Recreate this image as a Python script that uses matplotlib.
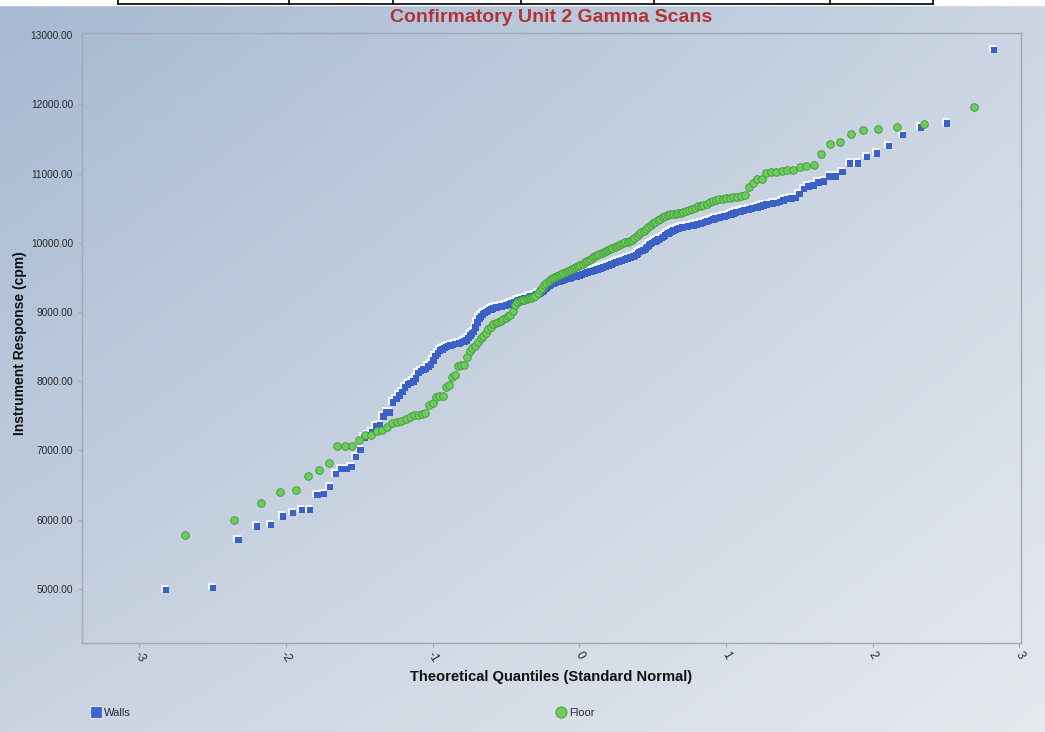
import numpy as np
import matplotlib
matplotlib.use("Agg")
import matplotlib.pyplot as plt
from matplotlib.transforms import offset_copy
from matplotlib.lines import Line2D
from statistics import NormalDist

# Sorted instrument responses (cpm)
walls = [
    4996, 5025, 5718, 5910, 5934, 6059, 6108, 6151, 6151, 6368, 6382, 6478, 6666, 6743, 6743,
    6772, 6915, 7017, 7200, 7235, 7272, 7354, 7368, 7500, 7555, 7560, 7705, 7754, 7800,
    7850, 7920, 7965, 7985, 8005, 8050, 8130, 8160, 8175, 8188, 8220,
    8250, 8310, 8370, 8410, 8450, 8470, 8490, 8503, 8515, 8524,
    8533, 8545, 8550, 8555, 8560, 8572, 8585, 8600, 8635, 8670,
    8700, 8720, 8785, 8860, 8915, 8945, 8975, 8995, 9010, 9025,
    9035, 9045, 9058, 9066, 9072, 9078, 9082, 9087, 9093, 9098,
    9102, 9108, 9120, 9130, 9142, 9150, 9155, 9165, 9172, 9180,
    9188, 9195, 9200, 9205, 9212, 9222, 9230, 9238, 9243, 9250,
    9258, 9265, 9273, 9285, 9300, 9318, 9340, 9360, 9378, 9392,
    9400, 9410, 9420, 9430, 9440, 9445, 9450, 9455, 9462, 9470,
    9476, 9482, 9488, 9494, 9500, 9506, 9512, 9518, 9524, 9530, 9537, 9543,
    9550, 9557, 9563, 9570, 9577, 9584, 9590, 9597, 9604, 9610,
    9617, 9623, 9630, 9636, 9643, 9650, 9657, 9663, 9670, 9678,
    9686, 9695, 9705, 9715, 9723, 9730, 9738, 9745, 9752, 9760,
    9767, 9775, 9782, 9790, 9797, 9803, 9810, 9820, 9835, 9855,
    9875, 9890, 9895, 9905, 9925, 9950, 9970, 9990, 10005, 10018,
    10030, 10042, 10052, 10062, 10075, 10090, 10110, 10133, 10145, 10158,
    10170, 10183, 10195, 10207, 10215, 10222, 10228, 10233, 10238, 10243,
    10248, 10253, 10258, 10263, 10270, 10278, 10287, 10296, 10305, 10315,
    10325, 10336, 10346, 10356, 10367, 10375, 10383, 10390, 10398, 10408,
    10420, 10432, 10444, 10453, 10462, 10472, 10481, 10490, 10500, 10510,
    10521, 10533, 10546, 10558, 10565, 10573, 10582, 10598, 10620, 10642,
    10650, 10656, 10715, 10785, 10820, 10838, 10880, 10895, 10964, 10964,
    11030, 11152, 11152, 11248, 11300, 11407, 11568, 11676, 11734, 12793,
]

floor = [
    5785, 5992, 6246, 6397, 6425, 6628, 6719, 6820, 7061, 7061,
    7070, 7152, 7220, 7224, 7286, 7296, 7335, 7402, 7416, 7430,
    7451, 7488, 7508, 7513, 7527, 7546, 7657, 7682, 7777, 7787,
    7787, 7912, 7946, 8057, 8090, 8225, 8235, 8240, 8355, 8440,
    8480, 8510, 8570, 8620, 8660, 8700, 8750, 8790, 8820, 8840,
    8852, 8865, 8900, 8915, 8940, 8960, 9020, 9100, 9140, 9160,
    9170, 9180, 9190, 9195, 9205, 9215, 9230, 9270, 9320, 9350,
    9385, 9415, 9445, 9470, 9490, 9505, 9520, 9535, 9550, 9565,
    9580, 9595, 9610, 9625, 9640, 9655, 9670, 9685, 9700, 9720,
    9735, 9750, 9770, 9790, 9805, 9820, 9835, 9850, 9865, 9880,
    9895, 9910, 9925, 9935, 9950, 9965, 9980, 9995, 10005, 10015,
    10030, 10045, 10070, 10095, 10130, 10150, 10170, 10200, 10225, 10255,
    10280, 10305, 10330, 10350, 10365, 10380, 10395, 10410, 10415, 10420,
    10428, 10435, 10445, 10460, 10475, 10490, 10505, 10525, 10535, 10545,
    10565, 10590, 10600, 10612, 10625, 10632, 10640, 10650, 10660, 10665,
    10670, 10690, 10809, 10858, 10916, 10925, 11003, 11022, 11022, 11040,
    11050, 11050, 11098, 11108, 11125, 11278, 11424, 11462, 11572, 11626,
    11638, 11667, 11710, 11965,
]

y_ticks = [5000, 6000, 7000, 8000, 9000, 10000, 11000, 12000, 13000]
x_ticks = [-3, -2, -1, 0, 1, 2, 3]
series_names = ["Walls", "Floor"]


def normal_scores(n):
    """Blom plotting positions mapped to standard normal quantiles."""
    nd = NormalDist()
    return np.array([nd.inv_cdf((i - 0.375) / (n + 0.25)) for i in range(1, n + 1)])


plt.rcParams["font.family"] = ["Liberation Sans", "DejaVu Sans"]

W, H = 1045, 732
fig = plt.figure(figsize=(W / 100, H / 100), dpi=100)

# gradient backdrop
bg = fig.add_axes([0, 0, 1, 1], zorder=-10)
bg.set_axis_off()
tl = np.array([0xa6, 0xb9, 0xd2]) / 255
tr = np.array([0xcb, 0xd5, 0xe3]) / 255
bl = np.array([0xc9, 0xd3, 0xe1]) / 255
br = np.array([0xe6, 0xe9, 0xee]) / 255
u = np.linspace(0, 1, 256)[None, :, None]
v = np.linspace(0, 1, 256)[:, None, None]
grad = (1 - v) * ((1 - u) * tl + u * tr) + v * ((1 - u) * bl + u * br)
bg.imshow(grad, extent=[0, 1, 0, 1], aspect="auto", origin="upper")
bg.set_xlim(0, 1)
bg.set_ylim(0, 1)

# header strip with table rule
bg.add_patch(plt.Rectangle((0, 1 - 5 / H), 1, 5 / H, color="white", zorder=2))
bg.plot([118 / W, 933 / W], [1 - 4 / H, 1 - 4 / H], color="black", lw=1.2, zorder=3)
for xp in [118, 289, 393, 521, 654, 830, 933]:
    bg.plot([xp / W, xp / W], [1 - 4 / H, 1], color="black", lw=1.2, zorder=3)

left, right, top, bottom = 82, 1020.5, 33, 643
ax = fig.add_axes([left / W, 1 - bottom / H, (right - left) / W, (bottom - top) / H])
ax.patch.set_alpha(0)
ax.set_xlim(-3.39, 3.007)
ax.set_ylim(4220, 13029)
for s in ax.spines.values():
    s.set_color("#a3a8b0")
    s.set_linewidth(1.0)

ax.set_yticks(y_ticks)
ax.set_yticklabels([f"{t:.2f}" for t in y_ticks], fontsize=7.3, color="#2a2a2a")
ax.set_xticks(x_ticks)
ax.set_xticklabels([str(t) for t in x_ticks], fontsize=8.5, color="#2a2a2a", rotation=-60,
                   ha="center", va="top")
ax.tick_params(axis="both", color="#a3a8b0", length=3, width=0.8)
ax.tick_params(axis="x", pad=2)

xw = normal_scores(len(walls))
xf = normal_scores(len(floor))

hi = offset_copy(ax.transData, fig=fig, x=-0.8, y=0.8, units="dots")
lo = offset_copy(ax.transData, fig=fig, x=0.6, y=-0.6, units="dots")
ax.scatter(xw, walls, marker="s", s=30, c="#f2f5ff", edgecolors="none", transform=hi, zorder=3)
ax.scatter(xw, walls, marker="s", s=22, c="#3b60c6", edgecolors="none", transform=lo, zorder=4)
ax.scatter(xf, floor, marker="o", s=30, c="#6fcb5f", edgecolors="#45a03a", linewidths=0.7,
           zorder=5)

fig.text(551 / W, 1 - 17 / H, "Confirmatory Unit 2 Gamma Scans", ha="center", va="center",
         fontsize=14, fontweight="bold", color="#b23335")
fig.text(20 / W, 1 - 343 / H, "Instrument Response (cpm)", rotation=90, ha="center",
         va="center", fontsize=10, fontweight="bold", color="#111111")
fig.text(551 / W, 1 - 677 / H, "Theoretical Quantiles (Standard Normal)", ha="center",
         va="center", fontsize=10.6, fontweight="bold", color="#111111")

# legend entries along the bottom
h_walls = Line2D([], [], marker="s", ls="none", markersize=8, markerfacecolor="#3f66d0",
                 markeredgecolor="#dfe8ff", markeredgewidth=0.8)
h_floor = Line2D([], [], marker="o", ls="none", markersize=8, markerfacecolor="#6fcb5f",
                 markeredgecolor="#45a03a", markeredgewidth=0.7)
for h, name, xp in [(h_walls, series_names[0], 86), (h_floor, series_names[1], 551)]:
    lg = fig.legend(handles=[h], labels=[name], loc="center left",
                    bbox_to_anchor=(xp / W, 1 - 713 / H), frameon=False, fontsize=8,
                    handlelength=0.8, handletextpad=0.35, borderpad=0)
    lg.get_texts()[0].set_color("#2a2a2a")

fig.savefig("out.png", dpi=100)
